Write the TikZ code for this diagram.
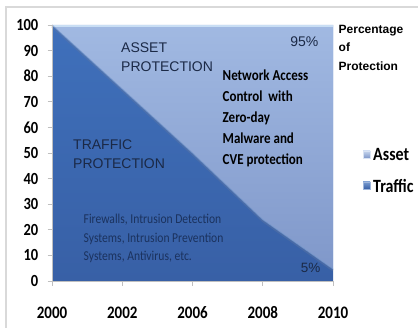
\documentclass[tikz,border=0pt]{standalone}
\usepackage{fontspec}
\usepackage{graphicx}
\setmainfont{Liberation Sans}
\newfontfamily\calfont{Carlito}
\newfontfamily\arialfont{Liberation Sans}
\newcommand\vstr[1]{\scalebox{1}[1.17]{#1}}
\definecolor{assetTop}{HTML}{A1B9E2}
\definecolor{assetBot}{HTML}{8098CA}
\definecolor{trafTop}{HTML}{3F70BB}
\definecolor{trafBot}{HTML}{3860A6}
\definecolor{navy}{HTML}{1B2946}
\definecolor{navyb}{HTML}{1B325E}
\definecolor{gridgray}{HTML}{BFBFBF}
\definecolor{framegray}{HTML}{D9D9D9}
\definecolor{HighlightTop}{HTML}{C9DEF4}
\tikzset{
  axislbl/.style={inner sep=0pt, font=\calfont\bfseries\fontsize{14.5}{16}\selectfont, text=black},
  arealbl/.style={inner sep=0pt, align=left, anchor=west, font=\arialfont\fontsize{14}{19}\selectfont, text=navy},
  axisline/.style={draw=gridgray, line width=0.8pt},
}
\begin{document}
\begin{tikzpicture}[x=1pt,y=-1pt]
\useasboundingbox (0,0) rectangle (418,328);
\fill[white] (0,0) rectangle (418,328);
\draw[framegray, line width=1.2pt] (6,328) -- (6,7) -- (418,7);
% data coordinates
\coordinate (t0) at (52,25);
\coordinate (t1) at (122.25,89);
\coordinate (t2) at (192.5,153);
\coordinate (t3) at (262.75,219.6);
\coordinate (t4) at (333,269);
\coordinate (tr) at (333,25);
\coordinate (b4) at (333,281);
\coordinate (b0) at (52,281);
% asset area
\shade[top color=assetTop, bottom color=assetBot] (t0) -- (tr) -- (t4) -- (t3) -- (t2) -- (t1) -- cycle;
% traffic area
\shade[top color=trafTop, bottom color=trafBot] (t0) -- (t1) -- (t2) -- (t3) -- (t4) -- (b4) -- (b0) -- cycle;
% bevel effects
\draw[color=HighlightTop, line width=2.5pt] (53,26) -- (333,26);
\draw[color=white!70!assetTop, line width=0.8pt] (333,25) -- (t4);
\draw[color=assetBot!80!black, opacity=0.35, line width=2pt] ([yshift=-1.4pt]t0) -- ([yshift=-1.4pt]t1) -- ([yshift=-1.4pt]t2) -- ([yshift=-1.4pt]t3) -- ([yshift=-1.4pt]t4);
\draw[color=trafTop!70!white, opacity=0.6, line width=1pt] (t0) -- (t1) -- (t2) -- (t3) -- (t4);
% axes
\draw[axisline] (52,25) -- (b0) -- (b4);
\foreach \v in {0,10,...,100}{
  \draw[axisline] (47.5,{281-2.56*\v}) -- (52,{281-2.56*\v});
  \node[axislbl, anchor=east] (y\v) at (38.5,{281-2.56*\v}) {\vstr{\v}};
}
\foreach \i/\yr in {0/2000,1/2002,2/2006,3/2008,4/2010}{
  \draw[axisline] ({52+70.25*\i},281) -- ({52+70.25*\i},286);
  \node[axislbl, font=\calfont\bfseries\fontsize{15}{16}\selectfont] (x\yr) at ({52+70.25*\i},313) {\vstr{\yr}};
}
% area labels
\node[arealbl] (asset) at (121,57) {ASSET\\PROTECTION};
\node[arealbl] (traffic) at (73,154.5) {TRAFFIC\\PROTECTION};
\node[inner sep=0pt, anchor=east, font=\arialfont\fontsize{14}{15}\selectfont, text=navy] (p95) at (318.5,42) {95\%};
\node[inner sep=0pt, anchor=east, font=\arialfont\fontsize{13.5}{15}\selectfont, text=navy] (p5) at (320.5,268) {5\%};
\node[inner sep=0pt, anchor=west, align=left, font=\calfont\bfseries\fontsize{13}{21}\selectfont, text=black] (nac) at (222.5,118) {\vstr{Network Access}\\\vstr{Control \ with}\\\vstr{Zero-day}\\\vstr{Malware and}\\\vstr{CVE protection}};
\node[inner sep=0pt, anchor=west, align=left, font=\calfont\fontsize{11.6}{18.5}\selectfont, text=navyb] (fw) at (83.5,238.5) {\vstr{Firewalls, Intrusion Detection}\\\vstr{Systems, Intrusion Prevention}\\\vstr{Systems, Antivirus, etc.}};
% legend
\node[inner sep=0pt, anchor=north west, align=left, font=\arialfont\bfseries\fontsize{12}{18.5}\selectfont] (ptitle) at (338.5,25) {Percentage\\of\\Protection};
\shade[top color=assetTop!60!white, bottom color=assetBot, draw=assetTop!40!white, line width=0.4pt] (363,151) rectangle (370,158);
\node[inner sep=0pt, anchor=west, font=\calfont\bfseries\fontsize{16}{18}\selectfont] (lasset) at (373,155) {\vstr{Asset}};
\shade[top color=trafTop!70!white, bottom color=trafBot, draw=trafTop!50!white, line width=0.4pt] (363,182) rectangle (370,189);
\node[inner sep=0pt, anchor=west, font=\calfont\bfseries\fontsize{16}{18}\selectfont] (ltraffic) at (373,186) {\vstr{Traffic}};
\end{tikzpicture}
\end{document}
